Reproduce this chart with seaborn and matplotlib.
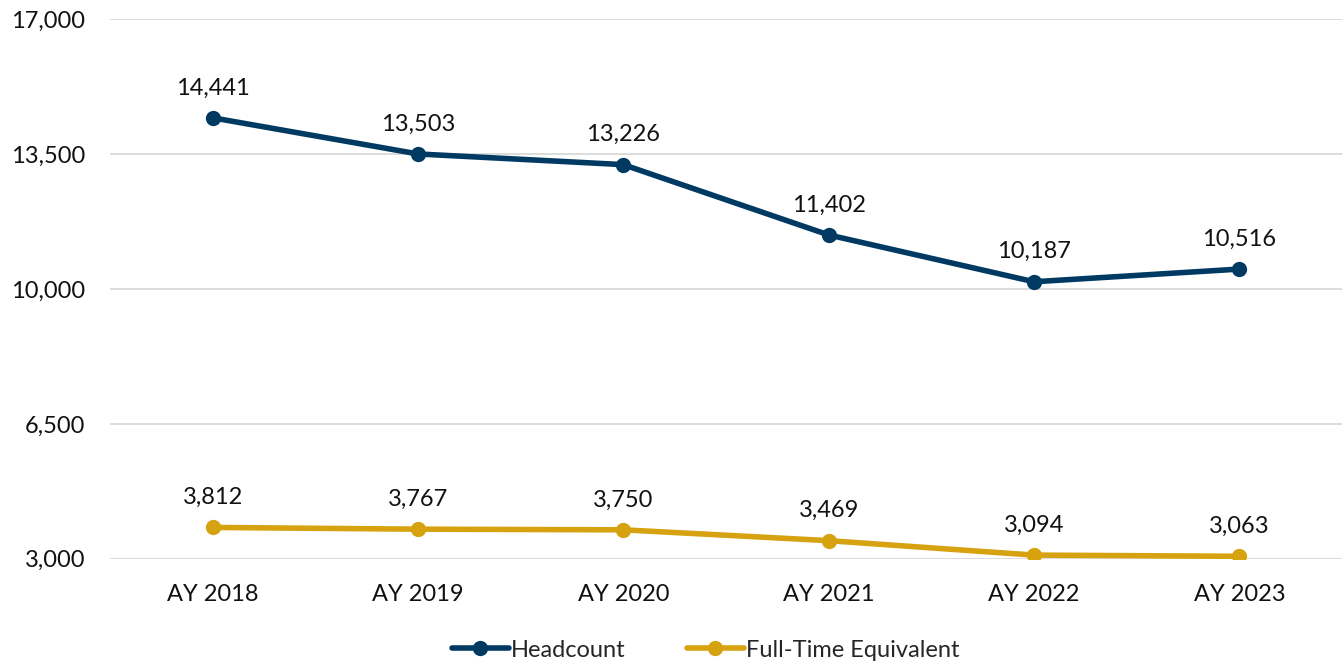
import pandas as pd
import seaborn as sns
import matplotlib.pyplot as plt

years = ['AY 2018', 'AY 2019', 'AY 2020', 'AY 2021', 'AY 2022', 'AY 2023']
headcount = [14441, 13503, 13226, 11402, 10187, 10516]
fte = [3812, 3767, 3750, 3469, 3094, 3063]
y_ticks = [3000, 6500, 10000, 13500, 17000]

NAVY = '#003A63'
GOLD = '#D6A20F'


def plot_enrollment():
    df = pd.DataFrame({'year': years * 2,
                       'value': headcount + fte,
                       'series': ['Headcount'] * 6 + ['Full-Time Equivalent'] * 6})

    sns.set_style('white')
    plt.rcParams['font.family'] = ['Lato', 'DejaVu Sans']

    fig = plt.figure(figsize=(13.42, 6.62), dpi=100)
    ax = fig.add_axes([0.082, 0.156, 0.918, 0.815])
    sns.lineplot(df, x='year', y='value', hue='series',
                 palette={'Headcount': NAVY, 'Full-Time Equivalent': GOLD},
                 marker='o', markersize=11, markeredgewidth=0,
                 linewidth=4, ax=ax, sort=False, legend=True)

    for vals in (headcount, fte):
        for i, v in enumerate(vals):
            ax.annotate(f'{v:,}', (i, v), xytext=(0, 14), textcoords='offset points',
                        ha='center', va='bottom', fontsize=17, color='#111111')

    ax.set_xlim(-0.5, 5.5)
    ax.set_ylim(3000, 17000)
    ax.set_yticks(y_ticks)
    ax.set_yticklabels([f'{t:,}' for t in y_ticks])
    ax.grid(axis='y', color='#d9d9d9', linewidth=1.3)
    ax.set_axisbelow(True)
    for s in ax.spines.values():
        s.set_visible(False)
    ax.tick_params(axis='both', length=0, labelsize=17, labelcolor='#111111')
    ax.tick_params(axis='y', pad=18)
    ax.tick_params(axis='x', pad=18)
    ax.set_xlabel('')
    ax.set_ylabel('')

    handles, labels = ax.get_legend_handles_labels()
    ax.get_legend().remove()
    fig.legend(handles, labels, loc='center', bbox_to_anchor=(0.526, 0.018),
               ncol=2, frameon=False, fontsize=17, handlelength=2.4,
               columnspacing=2.6, handletextpad=0.1, borderaxespad=0)

    fig.savefig('out.png', dpi=100)


def main():
    plot_enrollment()


if __name__ == '__main__':
    main()
